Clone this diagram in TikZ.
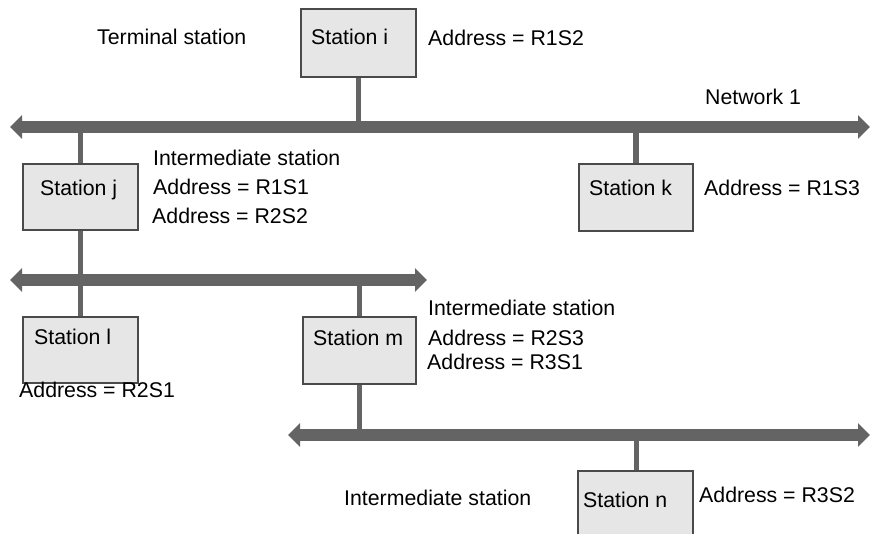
\documentclass[tikz,border=0pt]{standalone}
\usepackage{fontspec}
\setmainfont{Liberation Sans}
\usetikzlibrary{arrows.meta}
\definecolor{busgray}{HTML}{646464}
\definecolor{boxfill}{HTML}{E6E6E6}
\definecolor{boxline}{HTML}{4A4A4A}
\tikzset{
  stationbox/.style={draw=boxline, fill=boxfill, line width=1.5pt, rectangle,
    anchor=north west, inner sep=0pt, minimum width=115pt},
  lbl/.style={anchor=base west, inner sep=0pt, font=\fontsize{21.3}{26}\selectfont},
  bus/.style={draw=busgray, line width=12pt,
    {Triangle[length=12pt,width=23pt]}-{Triangle[length=12pt,width=23pt]}},
  link/.style={draw=busgray, line width=5.5pt}
}
\begin{document}
\begin{tikzpicture}[x=1pt,y=-1pt]
\useasboundingbox (0,0) rectangle (870,533);
\clip (0,0) rectangle (870,533);
\fill[white] (0,0) rectangle (870,533);

% bus end points
\coordinate (b1l) at (10,127);  \coordinate (b1r) at (870,127);
\coordinate (b2l) at (10,280);  \coordinate (b2r) at (427,280);
\coordinate (b3l) at (288,435); \coordinate (b3r) at (870,435);

% stations
\node[stationbox, minimum height=68pt] (si) at (300,8) {};
\node[stationbox, minimum height=66pt] (sj) at (22,163) {};
\node[stationbox, minimum height=67pt, minimum width=114pt] (sk) at (578,163) {};
\node[stationbox, minimum height=66pt] (sl) at (22,316) {};
\node[stationbox, minimum height=67pt, minimum width=113pt] (sm) at (302,316) {};
\node[stationbox, minimum height=80pt] (sn) at (577,470) {};

% station links
\draw[link] (si.south) -- (si.south |- b1l);
\draw[link] (sk.north |- b1l) -- (sk.north);
\draw[link] (sj.north |- b1l) -- (sj.north);
\draw[link] (sj.south) -- (sl.north);
\draw[link] (sm.north |- b2l) -- (sm.north);
\draw[link] (sm.south) -- (sm.south |- b3l);
\draw[link] ([xshift=1pt]sn.north |- b3l) -- ([xshift=1pt]sn.north);

% network buses
\draw[bus] (b1l) -- (b1r);
\draw[bus] (b2l) -- (b2r);
\draw[bus] (b3l) -- (b3r);

% labels
\node[lbl] (t1) at (97,44.5) {Terminal station};
\node[lbl] (ti) at (311,44.5) {Station i};
\node[lbl] (ai) at (428,45.5) {Address = R1S2};
\node[lbl] (net) at (705,104.5) {Network 1};

\node[lbl] (tj) at (40,195.5) {Station j};
\node[lbl] (ij) at (153,165.5) {Intermediate station};
\node[lbl] (aj1) at (153,194.5) {Address = R1S1};
\node[lbl] (aj2) at (152,223.5) {Address = R2S2};

\node[lbl] (tk) at (589,195.5) {Station k};
\node[lbl] (ak) at (704,195.5) {Address = R1S3};

\node[lbl] (tl) at (34,344.5) {Station l};
\node[lbl] (al) at (19,397.5) {Address = R2S1};

\node[lbl] (tm) at (313,345.5) {Station m};
\node[lbl] (im) at (428,315.5) {Intermediate station};
\node[lbl] (am1) at (428,345.5) {Address = R2S3};
\node[lbl] (am2) at (427,369.5) {Address = R3S1};

\node[lbl] (in) at (344,505.5) {Intermediate station};
\node[lbl] (tn) at (583,507.5) {Station n};
\node[lbl] (an) at (699,502.5) {Address = R3S2};
\end{tikzpicture}
\end{document}
